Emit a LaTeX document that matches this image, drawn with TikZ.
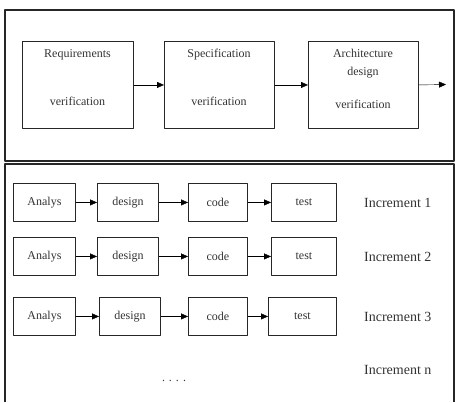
\documentclass[tikz,border=0pt]{standalone}
\usepackage{fontspec}
\setmainfont{Liberation Serif}
\usetikzlibrary{arrows.meta}
\begin{document}
\begin{tikzpicture}[x=1pt, y=-1pt, line join=round, >={Triangle[length=7pt,width=6pt]},
	box/.style={draw=black!85, line width=.9pt, anchor=north west, inner sep=0pt,
		font=\fontsize{12}{14}\selectfont, text=black!80},
	lbl/.style={font=\fontsize{12}{14}\selectfont, text=black!80, text height=8pt, text depth=2.5pt, inner sep=0pt},
	inc/.style={font=\fontsize{14}{16}\selectfont, text=black!80, anchor=west, inner sep=0pt}]
	\useasboundingbox (0,0) rectangle (455,402);
	% panels
	\draw[line width=1.2pt, black!85] (5,10) rectangle (454,161);
	\draw[line width=1.2pt, black!85] (5,402) -- (5,164) -- (454,164) -- (454,402);
	
	% upper panel
	\node[box, minimum width=111, minimum height=87] (req) at (22,41) {};
	\node[box, minimum width=110, minimum height=87] (spec) at (164,41) {};
	\node[box, minimum width=110, minimum height=87] (arch) at (308,41) {};
	\node[lbl] (reqA) at (77.5,55) {Requirements};
	\node[lbl] (reqB) at (77.5,103) {verification};
	\node[lbl] (specA) at (219,55) {Specification};
	\node[lbl] (specB) at (219,103) {verification};
	\node[lbl] (archA) at (363,55) {Architecture};
	\node[lbl] (archB) at (363,73) {design};
	\node[lbl] (archC) at (363,106) {verification};
	\coordinate (next) at (446,84.5);
	
	\draw[->] (req.east)--(spec.west);
	\draw[->] (spec.east)--(arch.west);
	\draw[->] (arch.east)--(next);
	
	% lower panel
	\foreach \r/\y/\dx/\tx/\tw in {1/183/97/271/65,2/237/97/271/65,3/297/99/268/68}{
		\node[box, minimum width=62, minimum height=38] (an\r) at (13,\y) {Analys};
		\node[box, minimum width=61, minimum height=38] (de\r) at (\dx,\y) {design};
		\node[box, minimum width=59, minimum height=38] (co\r) at (188,\y) {code};
		\node[box, minimum width=\tw, minimum height=38] (te\r) at (\tx,\y) {test};
		\node[inc] (inc\r) at (364,\y+20) {Increment \r};
		\draw[->] (an\r)--(de\r);
		\draw[->] (de\r)--(co\r);
		\draw[->] (co\r)--(te\r);
	}
	\node[inc] (incn) at (364,370) {Increment n};
	\node[lbl] (dots) at (174,379) {. . . .};
\end{tikzpicture}
\end{document}
